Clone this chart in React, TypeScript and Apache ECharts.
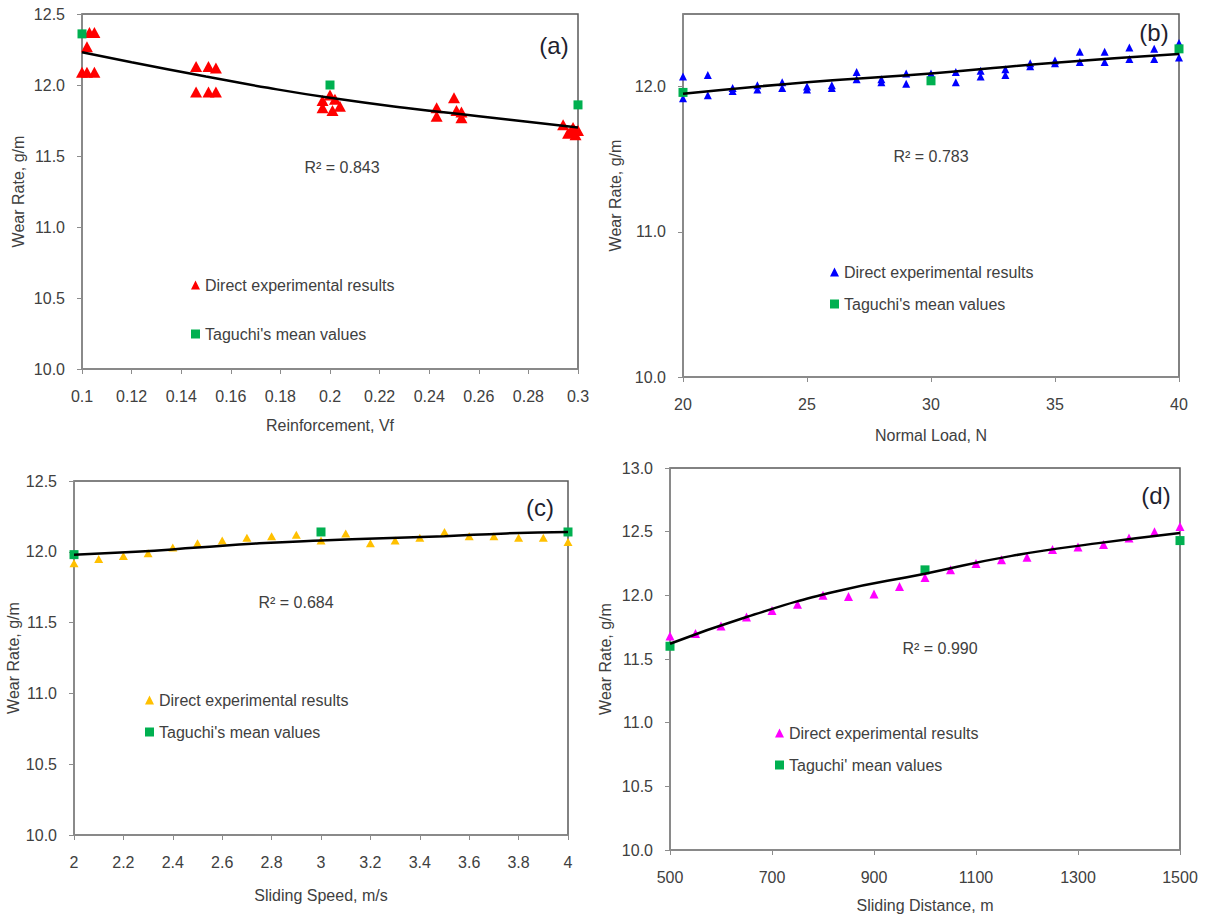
import React, { useEffect, useRef } from 'react';
import * as echarts from 'echarts';

const FONT = "'Liberation Sans', Arial, sans-serif";
const TXT = '#404040';
const AXIS = '#8c8c8c';
const GREEN = '#00B050';

// ---------- Panel (a): Reinforcement, Vf ----------
const aDirectX = [0.103, 0.105, 0.102, 0.1, 0.102, 0.105,
  0.146, 0.151, 0.154, 0.146, 0.151, 0.154,
  0.197, 0.2, 0.202, 0.204, 0.197, 0.201,
  0.243, 0.243, 0.25, 0.251, 0.253, 0.253,
  0.294, 0.296, 0.298, 0.299, 0.3, 0.297];
const aDirectY = [12.37, 12.37, 12.27, 12.09, 12.09, 12.09,
  12.13, 12.13, 12.12, 11.95, 11.95, 11.95,
  11.89, 11.93, 11.9, 11.85, 11.84, 11.82,
  11.84, 11.78, 11.91, 11.82, 11.77, 11.81,
  11.72, 11.66, 11.7, 11.65, 11.68, 11.67];
const aMeanX = [0.1, 0.2, 0.3];
const aMeanY = [12.36, 12.0, 11.86];
const aTrendX = [0.1, 0.12, 0.15, 0.175, 0.2, 0.23, 0.26, 0.285, 0.3];
const aTrendY = [12.23, 12.16, 12.06, 11.98, 11.91, 11.84, 11.78, 11.73, 11.7];
const aXTicks = [0.1, 0.12, 0.14, 0.16, 0.18, 0.2, 0.22, 0.24, 0.26, 0.28, 0.3];
const aYTicks = [10.0, 10.5, 11.0, 11.5, 12.0, 12.5];

// ---------- Panel (b): Normal Load, N ----------
const bDirectX = [20, 20, 21, 21, 22, 22, 23, 23, 24, 24, 25, 25, 26, 26, 27, 27, 28, 28, 29, 29,
  30, 31, 31, 32, 32, 33, 33, 34, 34, 35, 35, 36, 36, 37, 37, 38, 38, 39, 39, 40, 40];
const bDirectY = [12.07, 11.92, 12.08, 11.94, 11.99, 11.97, 12.01, 11.98, 12.03, 11.99, 12.0, 11.98,
  12.01, 11.99, 12.1, 12.05, 12.05, 12.03, 12.09, 12.02,
  12.09, 12.1, 12.03, 12.11, 12.07, 12.12, 12.08, 12.16, 12.14, 12.18, 12.16, 12.24, 12.17,
  12.24, 12.17, 12.27, 12.19, 12.26, 12.19, 12.3, 12.2];
const bMeanX = [20, 30, 40];
const bMeanY = [11.96, 12.04, 12.26];
const bTrendX = [20, 25, 30, 35, 40];
const bTrendY = [11.95, 12.03, 12.09, 12.165, 12.225];
const bXTicks = [20, 25, 30, 35, 40];
const bYTicks = [10.0, 11.0, 12.0];

// ---------- Panel (c): Sliding Speed, m/s ----------
const cDirectX = [2.0, 2.1, 2.2, 2.3, 2.4, 2.5, 2.6, 2.7, 2.8, 2.9, 3.0, 3.1, 3.2, 3.3, 3.4, 3.5, 3.6, 3.7, 3.8, 3.9, 4.0];
const cDirectY = [11.92, 11.95, 11.97, 11.99, 12.03, 12.06, 12.08, 12.1, 12.11, 12.12, 12.08, 12.13, 12.06,
  12.08, 12.1, 12.14, 12.11, 12.11, 12.1, 12.1, 12.07];
const cMeanX = [2.0, 3.0, 4.0];
const cMeanY = [11.98, 12.14, 12.14];
const cTrendX = [2.0, 2.25, 2.5, 2.75, 3.0, 3.25, 3.5, 3.75, 4.0];
const cTrendY = [11.98, 12.0, 12.03, 12.06, 12.08, 12.095, 12.11, 12.13, 12.14];
const cXTicks = [2, 2.2, 2.4, 2.6, 2.8, 3, 3.2, 3.4, 3.6, 3.8, 4];
const cYTicks = [10.0, 10.5, 11.0, 11.5, 12.0, 12.5];

// ---------- Panel (d): Sliding Distance, m ----------
const dDirectX = [500, 550, 600, 650, 700, 750, 800, 850, 900, 950, 1000, 1050, 1100, 1150, 1200, 1250, 1300, 1350, 1400, 1450, 1500];
const dDirectY = [11.68, 11.7, 11.76, 11.83, 11.88, 11.93, 12.0, 11.99, 12.01, 12.07, 12.14, 12.2, 12.25, 12.28,
  12.3, 12.36, 12.38, 12.4, 12.45, 12.5, 12.54];
const dMeanX = [500, 1000, 1500];
const dMeanY = [11.6, 12.2, 12.43];
const dTrendX = [500, 650, 825, 1000, 1170, 1340, 1500];
const dTrendY = [11.62, 11.83, 12.03, 12.17, 12.31, 12.41, 12.49];
const dXTicks = [500, 700, 900, 1100, 1300, 1500];
const dYTicks = [10.0, 10.5, 11.0, 11.5, 12.0, 12.5, 13.0];

const pairs = (xs: number[], ys: number[]) => xs.map((x, i) => [x, ys[i]]);

function xAxisOf(gridIndex: number, min: number, max: number, ticks: number[], name: string, nameGap: number) {
  return {
    type: 'value', gridIndex, min, max, name, nameLocation: 'middle', nameGap,
    nameTextStyle: { fontFamily: FONT, fontSize: 16, color: TXT },
    axisLine: { show: true, onZero: false, lineStyle: { color: AXIS, width: 1.5 } },
    axisTick: { show: true, inside: false, length: 5, customValues: ticks, lineStyle: { color: AXIS } },
    axisLabel: { customValues: ticks, margin: 19, fontFamily: FONT, fontSize: 16, color: TXT, formatter: (v: number) => String(v) },
    splitLine: { show: false },
  };
}

function yAxisOf(gridIndex: number, min: number, max: number, ticks: number[], nameGap: number) {
  return {
    type: 'value', gridIndex, min, max, name: 'Wear Rate, g/m', nameLocation: 'middle', nameGap,
    nameTextStyle: { fontFamily: FONT, fontSize: 16, color: TXT },
    axisLine: { show: true, onZero: false, lineStyle: { color: AXIS, width: 1.5 } },
    axisTick: { show: true, inside: false, length: 5, customValues: ticks, lineStyle: { color: AXIS } },
    axisLabel: { customValues: ticks, margin: 17, fontFamily: FONT, fontSize: 16, color: TXT, formatter: (v: number) => v.toFixed(1) },
    splitLine: { show: false },
  };
}

function panelSeries(idx: number, dX: number[], dY: number[], dColor: string, dSize: number[],
  mX: number[], mY: number[], tX: number[], tY: number[], meanName: string) {
  return [
    {
      type: 'scatter', name: 'Direct experimental results', xAxisIndex: idx, yAxisIndex: idx,
      symbol: 'triangle', symbolSize: dSize, itemStyle: { color: dColor, opacity: 1 },
      data: pairs(dX, dY), z: 2,
    },
    {
      type: 'scatter', name: meanName, xAxisIndex: idx, yAxisIndex: idx,
      symbol: 'rect', symbolSize: 9, itemStyle: { color: GREEN, opacity: 1 },
      data: pairs(mX, mY), z: 3,
    },
    {
      type: 'line', name: 'trend' + idx, xAxisIndex: idx, yAxisIndex: idx, smooth: true,
      showSymbol: false, symbol: 'none', lineStyle: { color: '#000', width: 2.5 },
      data: pairs(tX, tY), z: 4,
    },
  ];
}

function legendOf(left: number, top: number, gap: number, color: string, meanName: string) {
  return {
    orient: 'vertical', left, top, itemGap: gap, itemWidth: 9, itemHeight: 9, padding: 0,
    selectedMode: false,
    textStyle: { fontFamily: FONT, fontSize: 16, color: TXT },
    data: [
      { name: 'Direct experimental results', icon: 'triangle', itemStyle: { color } },
      { name: meanName, icon: 'rect', itemStyle: { color: GREEN } },
    ],
  };
}

function label(text: string, x: number, y: number, size: number, color: string) {
  return {
    type: 'text', x, y, z: 10,
    style: {
      text, fontFamily: FONT, fontSize: size, fill: color,
      textAlign: 'center', textVerticalAlign: 'middle', align: 'center', verticalAlign: 'middle',
    },
  };
}

export default function App() {
  const ref = useRef<HTMLDivElement>(null);
  useEffect(() => {
    if (!ref.current) return;
    const chart = echarts.init(ref.current, null, { renderer: 'svg' });
    const gridStyle = { show: true, borderColor: '#595959', borderWidth: 1.5, backgroundColor: 'transparent' };
    const meanABC = "Taguchi's mean values";
    const meanD = "Taguchi' mean values";
    const option: any = {
      animation: false,
      backgroundColor: '#ffffff',
      grid: [
        { left: 82, top: 14, width: 496, height: 355, ...gridStyle },
        { left: 683, top: 14, width: 496, height: 363, ...gridStyle },
        { left: 74, top: 481, width: 494, height: 354, ...gridStyle },
        { left: 670, top: 468, width: 510, height: 382, ...gridStyle },
      ],
      xAxis: [
        xAxisOf(0, 0.1, 0.3, aXTicks, 'Reinforcement, Vf', 48),
        xAxisOf(1, 20, 40, bXTicks, 'Normal Load, N', 50),
        xAxisOf(2, 2, 4, cXTicks, 'Sliding Speed, m/s', 52),
        xAxisOf(3, 500, 1500, dXTicks, 'Sliding Distance, m', 47),
      ],
      yAxis: [
        yAxisOf(0, 10, 12.5, aYTicks, 56),
        yAxisOf(1, 10, 12.5, bYTicks, 60),
        yAxisOf(2, 10, 12.5, cYTicks, 51),
        yAxisOf(3, 10, 13, dYTicks, 57),
      ],
      legend: [
        legendOf(191, 277, 33, '#FF0000', meanABC),
        legendOf(830, 264, 16, '#0000FF', meanABC),
        legendOf(145, 692, 16, '#FFC000', meanABC),
        legendOf(775, 725, 16, '#FF00FF', meanD),
      ],
      graphic: [
        label('R\u00B2 = 0.843', 342, 167, 16, TXT),
        label('R\u00B2 = 0.783', 931, 156, 16, TXT),
        label('R\u00B2 = 0.684', 296, 602, 16, TXT),
        label('R\u00B2 = 0.990', 940, 648, 16, TXT),
        label('(a)', 554, 45, 24, '#1f1f2f'),
        label('(b)', 1154, 32, 24, '#1f1f2f'),
        label('(c)', 540, 507, 24, '#1f1f2f'),
        label('(d)', 1156, 495, 24, '#1f1f2f'),
      ],
      series: [
        ...panelSeries(0, aDirectX, aDirectY, '#FF0000', [12, 11], aMeanX, aMeanY, aTrendX, aTrendY, meanABC),
        ...panelSeries(1, bDirectX, bDirectY, '#0000FF', [8, 8], bMeanX, bMeanY, bTrendX, bTrendY, meanABC),
        ...panelSeries(2, cDirectX, cDirectY, '#FFC000', [9, 8], cMeanX, cMeanY, cTrendX, cTrendY, meanABC),
        ...panelSeries(3, dDirectX, dDirectY, '#FF00FF', [9, 9], dMeanX, dMeanY, dTrendX, dTrendY, meanD),
      ],
    };
    chart.setOption(option);
    return () => chart.dispose();
  }, []);
  return (
    <div
      ref={ref}
      style={{ position: 'absolute', left: 0, top: 0, width: 1210, height: 917, background: '#ffffff' }}
    />
  );
}
